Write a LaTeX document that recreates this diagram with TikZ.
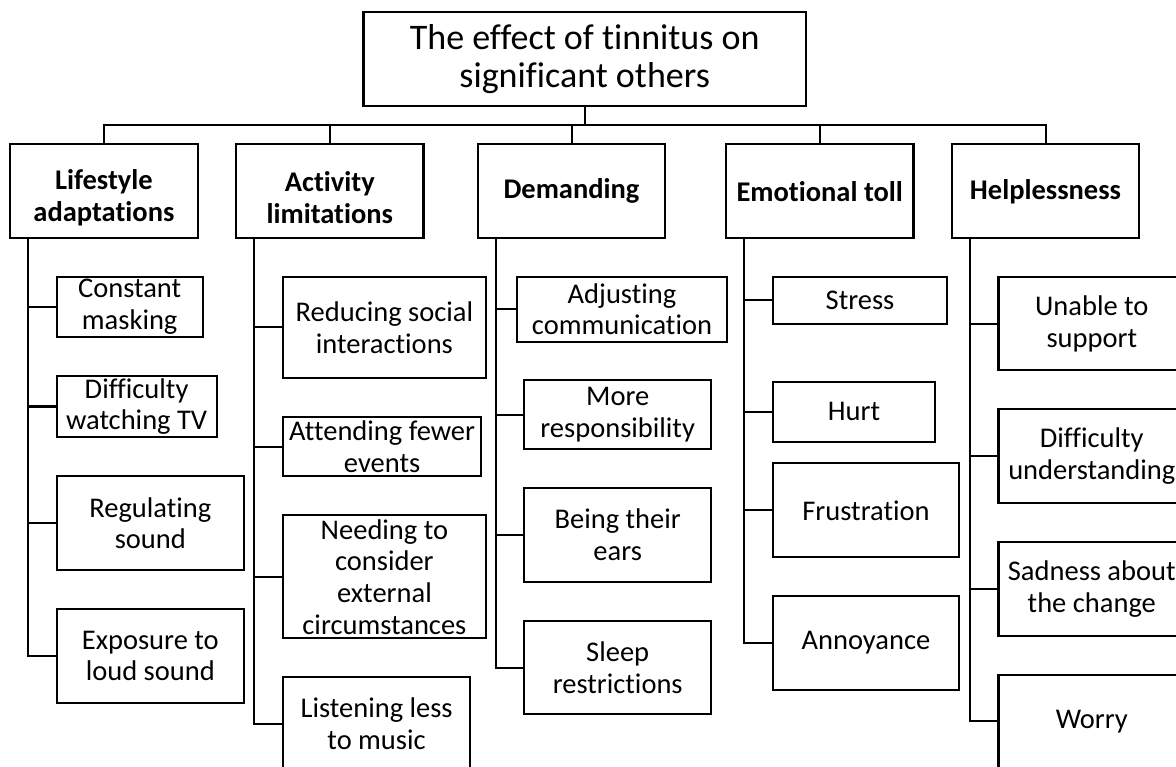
\documentclass[tikz,border=0pt]{standalone}
\usepackage{fontspec}
\setmainfont{Carlito}[Ligatures=NoCommon]
\usepackage{tikz}
\usetikzlibrary{positioning}

% pushes a two-line heading a little lower in its box
\newcommand{\lowstrut}{\rule{0pt}{33pt}}

\tikzset{
    x=1pt,
    y=-1pt,
    topic/.style = {
        draw,
        shape=rectangle,
        inner sep=0pt,
        align=center,
        line width=2.2pt,
        font=\fontsize{36}{38.5}\selectfont
    },
    theme/.style = {
        draw,
        shape=rectangle,
        inner sep=0pt,
        align=center,
        minimum width=187.5,
        minimum height=94,
        line width=2.2pt,
        font=\fontsize{28.5}{31.7}\selectfont\bfseries
    },
    leaf/.style = {
        draw,
        shape=rectangle,
        inner sep=0pt,
        align=center,
        line width=2.2pt,
        font=\fontsize{28.5}{31.7}\selectfont
    },
    link/.style = {
        draw,
        line width=2pt
    },
}

\begin{document}
\begin{tikzpicture}

            \fill[white] (0,0) rectangle (1176,767);
            \useasboundingbox (0,0) rectangle (1176,767);
            \clip (0,0) rectangle (1176,767);

            \node[topic, minimum width=442.5, minimum height=93.4] (title) at (584.7,59) {The effect of tinnitus on\\significant others};

            % main themes
            \node[theme] (life) at (103.9,191.3) {\lowstrut Lifestyle\\adaptations};
            \node[theme] (activity) at (329.8,191.3) {\lowstrut Activity\\limitations};
            \node[theme] (demand) at (571.5,191.3) {Demanding};
            \node[theme] (emotion) at (819.7,191.3) {Emotional toll};
            \node[theme] (helpless) at (1045.5,191.3) {Helplessness};

            % lifestyle adaptations
            \node[leaf, minimum width=146.2, minimum height=60] (masking) at (129.7,306.7) {Constant\\masking};
            \node[leaf, minimum width=160, minimum height=61.6] (tv) at (136.6,406.5) {Difficulty\\watching TV};
            \node[leaf, minimum width=187.4, minimum height=94] (regulating) at (150.3,523.3) {Regulating\\sound};
            \node[leaf, minimum width=187.4, minimum height=93.7] (exposure) at (150.3,655.9) {Exposure to\\loud sound};

            % activity limitations
            \node[leaf, minimum width=202.4, minimum height=101.6] (reducing) at (384.4,327.5) {Reducing social\\interactions};
            \node[leaf, minimum width=197.8, minimum height=59.6] (attending) at (382.1,446.5) {Attending fewer\\events};
            \node[leaf, minimum width=202.4, minimum height=123] (needing) at (384.4,576.8) {Needing to\\consider\\external\\circumstances};
            \node[leaf, minimum width=186.8, minimum height=93] (listening) at (376.6,723.5) {Listening less\\to music};

            % demanding
            \node[leaf, minimum width=209.3, minimum height=65] (adjusting) at (622,309.2) {Adjusting\\communication};
            \node[leaf, minimum width=186.7, minimum height=69.3] (responsibility) at (617.7,414.7) {More\\responsibility};
            \node[leaf, minimum width=186.7, minimum height=94] (ears) at (617.7,535) {Being their\\ears};
            \node[leaf, minimum width=186.7, minimum height=93.6] (sleep) at (617.7,667.5) {Sleep\\restrictions};

            % emotional toll
            \node[leaf, minimum width=174.5, minimum height=47.6] (stress) at (860,300.5) {Stress};
            \node[leaf, minimum width=162.7, minimum height=60.3] (hurt) at (854,411.9) {Hurt};
            \node[leaf, minimum width=186.6, minimum height=94] (frustration) at (866,510.3) {Frustration};
            \node[leaf, minimum width=186.6, minimum height=94] (annoyance) at (866,643) {Annoyance};

            % helplessness
            \node[leaf, minimum width=186.6, minimum height=93.3] (support) at (1091.8,323.7) {Unable to\\support};
            \node[leaf, minimum width=186.6, minimum height=93.4] (understanding) at (1091.8,456) {Difficulty\\understanding};
            \node[leaf, minimum width=186.6, minimum height=93.7] (sadness) at (1091.8,588.9) {Sadness about\\the change};
            \node[leaf, minimum width=186.6, minimum height=93.3] (worry) at (1091.8,721.4) {Worry};

            \coordinate (bus) at (584.7,125);
            \coordinate (life_spine) at ([xshift=19pt]life.south west);
            \coordinate (activity_spine) at ([xshift=19pt]activity.south west);
            \coordinate (demand_spine) at ([xshift=19pt]demand.south west);
            \coordinate (emotion_spine) at ([xshift=19pt]emotion.south west);
            \coordinate (helpless_spine) at ([xshift=19pt]helpless.south west);

            \path[link] (title.south) -- (bus);
            \path[link] (bus) -| (life.north);
            \path[link] (bus) -| (activity.north);
            \path[link] (bus) -| (demand.north);
            \path[link] (bus) -| (emotion.north);
            \path[link] (bus) -| (helpless.north);

            \path[link] (life_spine) |- (masking.west);
            \path[link] (life_spine) |- (tv.west);
            \path[link] (life_spine) |- (regulating.west);
            \path[link] (life_spine) |- (exposure.west);

            \path[link] (activity_spine) |- (reducing.west);
            \path[link] (activity_spine) |- (attending.west);
            \path[link] (activity_spine) |- (needing.west);
            \path[link] (activity_spine) |- (listening.west);

            \path[link] (demand_spine) |- (adjusting.west);
            \path[link] (demand_spine) |- (responsibility.west);
            \path[link] (demand_spine) |- (ears.west);
            \path[link] (demand_spine) |- (sleep.west);

            \path[link] (emotion_spine) |- (stress.west);
            \path[link] (emotion_spine) |- (hurt.west);
            \path[link] (emotion_spine) |- (frustration.west);
            \path[link] (emotion_spine) |- (annoyance.west);

            \path[link] (helpless_spine) |- (support.west);
            \path[link] (helpless_spine) |- (understanding.west);
            \path[link] (helpless_spine) |- (sadness.west);
            \path[link] (helpless_spine) |- (worry.west);

        \end{tikzpicture}
\end{document}
